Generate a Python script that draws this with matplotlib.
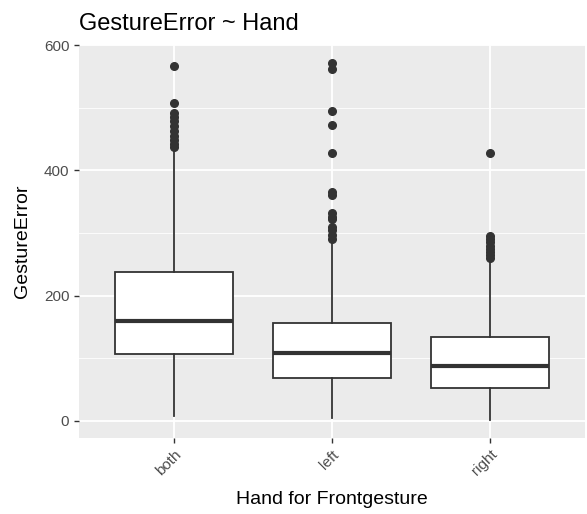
import matplotlib
matplotlib.use("Agg")
import matplotlib.pyplot as plt

plt.rcParams['font.family'] = ['Liberation Sans', 'DejaVu Sans']

hands = ["both", "left", "right"]
# five-number summaries
whislo = [8, 4, 2]
q1 = [107, 68, 53]
med = [159, 108, 88]
q3 = [237, 156, 134]
whishi = [432, 288, 257]
outliers = [
    [567, 508, 492, 485, 478, 470, 462, 455, 448, 442, 437],
    [572, 562, 494, 472, 428, 365, 360, 332, 326, 322, 310, 305, 297, 291],
    [428, 295, 290, 285, 280, 275, 270, 265, 260],
]

stats = []
for i in range(len(hands)):
    stats.append(dict(label=hands[i], whislo=whislo[i], q1=q1[i], med=med[i],
                      q3=q3[i], whishi=whishi[i], fliers=outliers[i]))

fig = plt.figure(figsize=(5.87, 5.14), dpi=100)
ax = fig.add_axes([79/587, (514-437.7)/514, (585-79)/587, (437.7-45)/514])
ax.set_facecolor('#EBEBEB')

dark = '#333333'
ax.bxp(stats, positions=[1, 2, 3], widths=0.75, patch_artist=True,
       showcaps=False,
       boxprops=dict(facecolor='white', edgecolor=dark, linewidth=1.3),
       whiskerprops=dict(color=dark, linewidth=1.3),
       medianprops=dict(color=dark, linewidth=3.0),
       flierprops=dict(marker='o', markerfacecolor=dark, markeredgecolor=dark,
                       markersize=5.5, linestyle='none'),
       zorder=3)

ax.set_xlim(0.4, 3.6)
ax.set_ylim(-26.7, 600)
ax.set_yticks([0, 200, 400, 600])
ax.set_yticks([100, 300, 500], minor=True)
ax.grid(which='major', color='white', linewidth=1.3, zorder=0)
ax.grid(which='minor', axis='y', color='white', linewidth=0.6, zorder=0)
ax.set_axisbelow(True)
for s in ax.spines.values():
    s.set_visible(False)

ax.tick_params(which='major', length=3.5, width=1, color='#333333',
               labelcolor='#4D4D4D', labelsize=11)
ax.tick_params(which='minor', length=0)
ax.set_xticks([1, 2, 3])
ax.set_xticklabels(hands, rotation=45, ha='right', va='top',
                   rotation_mode='anchor')

ax.set_xlabel("Hand for Frontgesture", fontsize=14, labelpad=9)
ax.set_ylabel("GestureError", fontsize=14, labelpad=9)
ax.set_title("GestureError ~ Hand", loc='left', fontsize=17, pad=11)

fig.savefig("out.png", dpi=100)
